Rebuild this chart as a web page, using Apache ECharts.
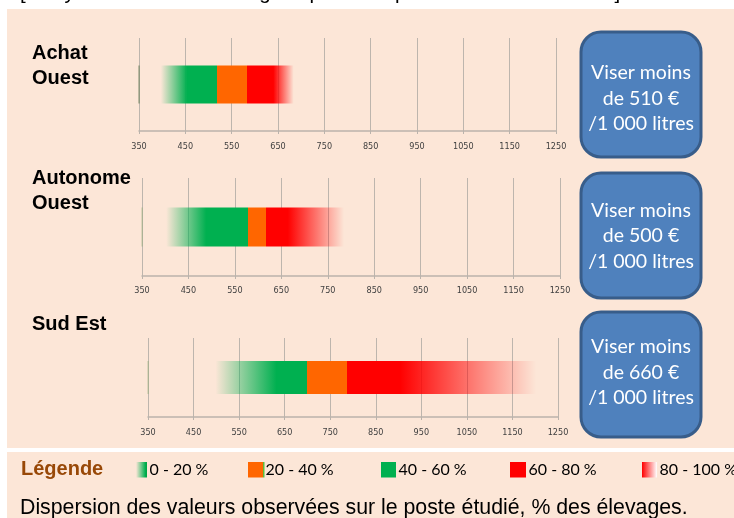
<!DOCTYPE html>
<html>
<head>
<meta charset="utf-8">
<script src="https://cdn.jsdelivr.net/npm/echarts@6/dist/echarts.min.js"></script>
<style>
html,body{margin:0;padding:0;background:#fff;}
#c{width:734px;height:518px;}
</style>
</head>
<body>
<div id="c"></div>
<script>
// ---- data (€ / 1 000 litres) ----
const regions = ['Achat\nOuest', 'Autonome\nOuest', 'Sud Est'];
const minVals = [397, 402, 498];   // start of 0-20 % (fade in)
const p20     = [454, 488, 632];
const p40     = [518, 578, 699];
const p60     = [583, 617, 786];
const p80     = [640, 664, 904];
const maxVals = [684, 785, 1202];  // end of 80-100 % (fade out)
const targets = [510, 500, 660];
const axisMin = 350, axisMax = 1250, axisStep = 100;
const legendLabels = ['0 - 20 %', '20 - 40 %', '40 - 60 %', '60 - 80 %', '80 - 100 %'];
const headerText = '[Inosys – Réseaux d\u2019élevage caprins – repères 2011 – CP 1 000 l]';
const captionText = 'Dispersion des valeurs observées sur le poste étudié, % des élevages.';

// ---- styles ----
const GREEN = '#00B050', ORANGE = '#FF6600', RED = '#FF0000';
const PEACH = '#FCE6D7';

const grids = [
  {left:139, width:417, top:38, height:93},
  {left:142, width:418, top:178, height:98},
  {left:148, width:410, top:338, height:79}
];
const barWidths = [38, 39, 33];
const labelMargins = [11, 10, 11];
const labelPos = [[32, 40.5], [32, 165.5], [32, 311.5]];
const boxTops = [32, 173, 312];
const boxTextY = [98.5, 236, 372.5];

const xAxes = grids.map((g, i) => ({
  type:'value', gridIndex:i, min:axisMin, max:axisMax, interval:axisStep,
  axisLine:{show:true, lineStyle:{color:'#BAB3AC', width:1.5}},
  axisTick:{show:true, length:3, lineStyle:{color:'#BAB3AC'}},
  splitLine:{show:true, lineStyle:{color:'#BDB5AD', width:1}},
  axisLabel:{color:'#404040', fontSize:9, margin:labelMargins[i],
    formatter: v => String(v),
    fontFamily:'"Liberation Sans Narrow","DejaVu Sans Condensed","Liberation Sans",sans-serif'}
}));
const yAxes = grids.map((g, i) => ({
  type:'category', gridIndex:i, data:[regions[i]], show:false
}));

function makeRender(idx) {
  return function (params, api) {
    const v = [0,1,2,3,4,5].map(k => api.value(k));
    const s = api.coord([v[0], 0]);
    const e = api.coord([v[5], 0]);
    const base = api.coord([axisMin, 0]);
    const h = barWidths[idx];
    const L = e[0] - s[0];
    const off = val => (api.coord([val, 0])[0] - s[0]) / L;
    const stops = [
      {offset:0, color:'rgba(0,176,80,0)'},
      {offset:off(v[1]), color:GREEN},
      {offset:off(v[2]), color:GREEN},
      {offset:off(v[2]), color:ORANGE},
      {offset:off(v[3]), color:ORANGE},
      {offset:off(v[3]), color:RED},
      {offset:off(v[4]), color:RED},
      {offset:1, color:'rgba(255,0,0,0)'}
    ];
    return {
      type:'group',
      children:[
        {type:'rect', shape:{x:s[0], y:s[1]-h/2, width:L, height:h},
         style:{fill:new echarts.graphic.LinearGradient(0,0,1,0,stops)}},
        {type:'rect', shape:{x:base[0]-0.5, y:s[1]-h/2, width:1.2, height:h},
         style:{fill: idx === 0 ? '#7E8C6E' : 'rgba(140,170,110,0.5)'}}
      ]
    };
  };
}

const series = grids.map((g, i) => ({
  type:'custom', xAxisIndex:i, yAxisIndex:i, silent:true,
  renderItem: makeRender(i),
  encode:{x:[0,1,2,3,4,5], y:6},
  data:[[minVals[i], p20[i], p40[i], p60[i], p80[i], maxVals[i], 0]]
}));

const graphic = [];
// panels
graphic.push({type:'rect', z:-10, shape:{x:7,y:9,width:727,height:439}, style:{fill:PEACH}});
graphic.push({type:'rect', z:-10, shape:{x:7,y:452,width:727,height:66}, style:{fill:PEACH}});
// header (cut off)
graphic.push({type:'text', style:{text:headerText, x:20, y:4, font:'20.5px "Liberation Sans", Arial, sans-serif', fill:'#000', textVerticalAlign:'bottom'}});
// region labels
regions.forEach((r, i) => {
  graphic.push({type:'text', z:10, style:{text:r, x:labelPos[i][0], y:labelPos[i][1], font:'bold 20px "Liberation Sans", Arial, sans-serif', fill:'#000', lineHeight:25, textVerticalAlign:'top'}});
});
// target boxes
targets.forEach((t, i) => {
  graphic.push({type:'rect', shape:{x:581, y:boxTops[i], width:120, height:125, r:20},
    style:{fill:'#4F81BD', stroke:'#385D8A', lineWidth:3}, z:5});
  graphic.push({type:'text', z:6, style:{text:'Viser moins\nde ' + t + ' €\n/1 000 litres', x:641, y:boxTextY[i],
    font:'19.5px Lato, "Open Sans", sans-serif', fill:'#fff', lineHeight:25.5, textAlign:'center', textVerticalAlign:'middle'}});
});
// legend
graphic.push({type:'text', style:{text:'Légende', x:21, y:469.5, font:'bold 20px "Liberation Sans", Arial, sans-serif', fill:'#984807', textVerticalAlign:'middle'}});
const swX = [136, 248, 381, 510, 642];
const swFill = [
  {type:'linear',x:0,y:0,x2:1,y2:0,colorStops:[{offset:0,color:'rgba(0,176,80,0)'},{offset:0.85,color:GREEN},{offset:1,color:'#00A040'}]},
  ORANGE, GREEN, RED,
  {type:'linear',x:0,y:0,x2:1,y2:0,colorStops:[{offset:0,color:RED},{offset:1,color:'#FFFFFF'}]}
];
const swW = [11, 15, 15, 16, 15];
legendLabels.forEach((l, i) => {
  graphic.push({type:'rect', shape:{x:swX[i], y:462, width:swW[i], height:15.5}, style:{fill:swFill[i]}});
  graphic.push({type:'text', style:{text:l, x:swX[i] + swW[i] + 2.5, y:470, font:'16px Lato, "Open Sans", sans-serif', fill:'#000', textVerticalAlign:'middle'}});
});
graphic.push({type:'rect', shape:{x:263, y:462, width:1.5, height:15.5}, style:{fill:'#5BBF3A'}});
// caption
graphic.push({type:'text', style:{text:captionText, x:20, y:508, font:'21.3px "Liberation Sans", Arial, sans-serif', fill:'#000', textVerticalAlign:'middle'}});

const chart = echarts.init(document.getElementById('c'), null, {renderer:'canvas'});
chart.setOption({
  animation:false,
  backgroundColor:'#fff',
  grid: grids,
  xAxis: xAxes,
  yAxis: yAxes,
  series: series,
  graphic: graphic
});
</script>
</body>
</html>
